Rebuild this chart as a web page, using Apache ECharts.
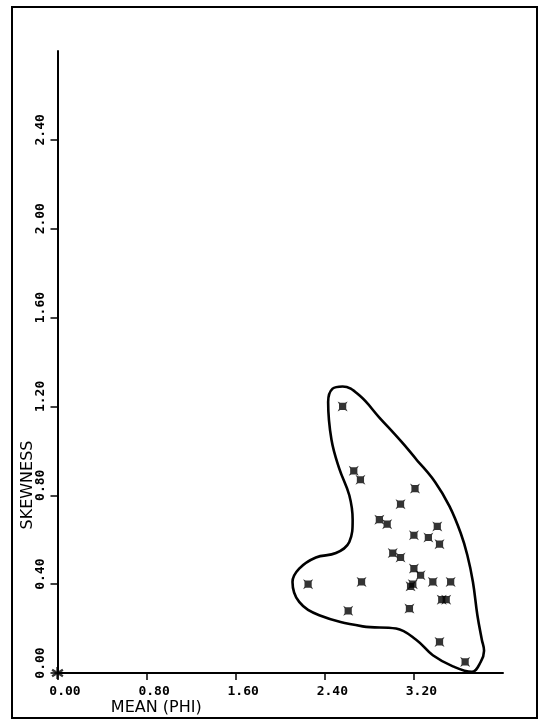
<!DOCTYPE html>
<html>
<head>
<meta charset="utf-8">
<script src="https://cdn.jsdelivr.net/npm/echarts@6/dist/echarts.min.js"></script>
<style>
  html, body { margin: 0; padding: 0; background: #fff; }
  #chart { width: 539px; height: 721px; }
</style>
</head>
<body>
<div id="chart"></div>
<script>
// sample points
const meanPhi = [2.56, 2.66, 2.72, 3.21, 3.08, 2.89, 2.96, 3.41, 3.20, 3.33, 3.43, 3.01, 3.08,
  3.20, 3.26, 3.17, 3.19, 3.37, 3.53, 2.25, 2.73, 3.45, 3.49, 2.61, 3.16, 3.43, 3.66];
const skewness = [1.20, 0.91, 0.87, 0.83, 0.76, 0.69, 0.67, 0.66, 0.62, 0.61, 0.58, 0.54, 0.52,
  0.47, 0.44, 0.39, 0.40, 0.41, 0.41, 0.40, 0.41, 0.33, 0.33, 0.28, 0.29, 0.14, 0.05];

// point at the origin
const originMean = [0];
const originSkew = [0];

// hand drawn envelope round the cluster (starts and ends on the straight right edge)
const envMean = [3.24, 3.39, 3.52, 3.62, 3.68, 3.73, 3.77, 3.81, 3.83, 3.80, 3.72, 3.55, 3.37,
  3.22, 3.04, 2.74, 2.35, 2.17, 2.11, 2.17, 2.32, 2.50, 2.62, 2.65, 2.62, 2.53, 2.46, 2.43,
  2.47, 2.56, 2.71, 2.89, 3.09, 3.24];
const envSkew = [0.95, 0.86, 0.75, 0.63, 0.53, 0.41, 0.26, 0.15, 0.10, 0.05, 0.005, 0.03, 0.08,
  0.15, 0.20, 0.21, 0.26, 0.32, 0.41, 0.47, 0.52, 0.54, 0.59, 0.69, 0.80, 0.92, 1.05, 1.22,
  1.28, 1.29, 1.25, 1.15, 1.04, 0.95];

const xTicks = [0, 0.8, 1.6, 2.4, 3.2];
const yTicks = [0, 0.4, 0.8, 1.2, 1.6, 2.0, 2.4];

const star = 'path://M0,0 L2.6,1.4 L7.4,1.4 L10,0 L8.6,2.6 L8.6,7.4 L10,10 L7.4,8.6 L2.6,8.6 L0,10 L1.4,7.4 L1.4,2.6 Z';
const asterisk = 'path://M4,0 L6,0 L6,3.3 L9,1.5 L10,3.2 L7,5 L10,6.8 L9,8.5 L6,6.7 L6,10 L4,10 L4,6.7 L1,8.5 L0,6.8 L3,5 L0,3.2 L1,1.5 L4,3.3 Z';

const chart = echarts.init(document.getElementById('chart'), null, { renderer: 'canvas' });

const tickFont = { fontFamily: 'DejaVu Sans Mono', fontSize: 13, fontWeight: 'bold', color: '#000' };

const option = {
  backgroundColor: '#fff',
  animation: false,
  graphic: [{
    type: 'rect',
    shape: { x: 12, y: 7, width: 525, height: 711 },
    style: { fill: 'none', stroke: '#000', lineWidth: 2 },
    silent: true
  }],
  grid: { left: 57.5, right: 36, top: 51, bottom: 47 },
  xAxis: {
    type: 'value',
    min: 0, max: 4, interval: 0.8,
    name: 'MEAN (PHI)',
    nameLocation: 'middle',
    nameGap: 27,
    nameMoveOverlap: false,
    nameTextStyle: { fontFamily: 'DejaVu Sans', fontSize: 16, color: '#000', padding: [0, 248, 0, 0] },
    splitLine: { show: false },
    axisLine: { onZero: false, lineStyle: { color: '#000', width: 2 } },
    axisTick: { customValues: xTicks, length: 7, lineStyle: { color: '#000', width: 1.5 } },
    axisLabel: Object.assign({
      customValues: xTicks,
      margin: 12,
      padding: [0, 0, 0, 15],
      formatter: v => v.toFixed(2)
    }, tickFont)
  },
  yAxis: {
    type: 'value',
    min: 0, max: 2.8, interval: 0.4,
    name: 'SKEWNESS',
    nameLocation: 'middle',
    nameRotate: 90,
    nameGap: 22,
    nameMoveOverlap: false,
    nameTextStyle: { fontFamily: 'DejaVu Sans', fontSize: 16, color: '#000', padding: [0, 246, 0, 0] },
    splitLine: { show: false },
    axisLine: { onZero: false, lineStyle: { color: '#000', width: 2 } },
    axisTick: { customValues: yTicks, length: 7, lineStyle: { color: '#000', width: 1.5 } },
    axisLabel: Object.assign({
      customValues: yTicks,
      rotate: 90,
      margin: 10,
      padding: [0, 0, 0, 20],
      formatter: v => v.toFixed(2)
    }, tickFont)
  },
  series: [
    {
      name: 'envelope',
      type: 'line',
      data: envMean.map((x, i) => [x, envSkew[i]]),
      smooth: 0.4,
      showSymbol: false,
      clip: false,
      lineStyle: { color: '#000', width: 2.6 },
      silent: true
    },
    {
      name: 'samples',
      type: 'scatter',
      data: meanPhi.map((x, i) => [x, skewness[i]]),
      symbol: star,
      symbolSize: 10,
      clip: false,
      itemStyle: { color: '#000' }
    },
    {
      name: 'origin',
      type: 'scatter',
      data: originMean.map((x, i) => [x, originSkew[i]]),
      symbol: asterisk,
      symbolSize: 12,
      clip: false,
      itemStyle: { color: '#000' }
    }
  ]
};

chart.setOption(option);
</script>
</body>
</html>
